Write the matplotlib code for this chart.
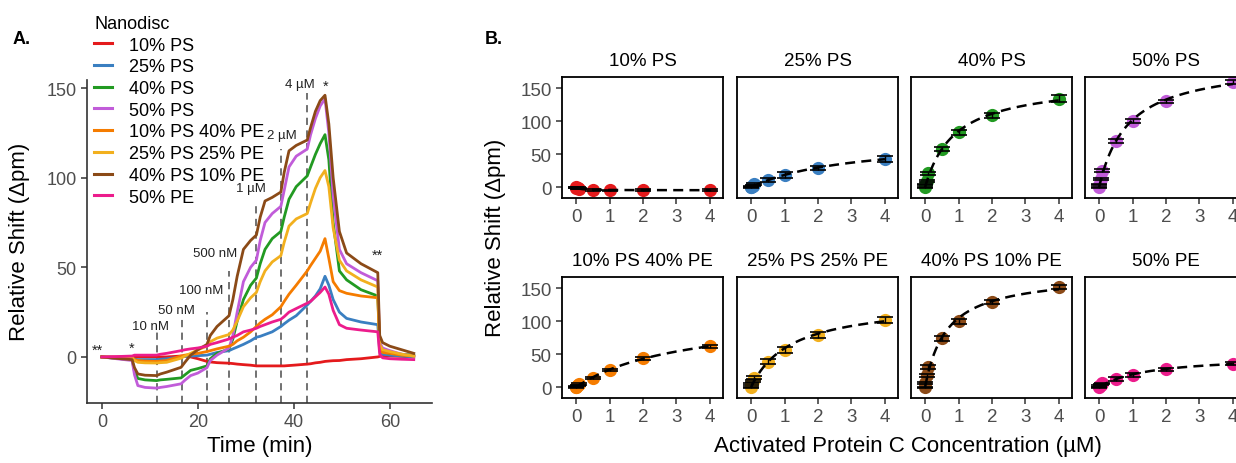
import numpy as np
import matplotlib
matplotlib.use("Agg")
import matplotlib.pyplot as plt
from matplotlib.lines import Line2D

plt.rcParams["font.family"] = ["Liberation Sans", "DejaVu Sans"]

W, H = 1236, 464

nanodiscs = ["10% PS", "25% PS", "40% PS", "50% PS",
             "10% PS 40% PE", "25% PS 25% PE", "40% PS 10% PE", "50% PE"]
colors = ["#E41A1C", "#3A7FC1", "#229A22", "#C15CD9",
          "#F57C00", "#F2B01E", "#8B4A17", "#EC1C8C"]

# ---- panel A: sensorgram traces ----
time_min = [0, 3, 6.3, 6.8, 7.5, 9, 11.4, 12.2, 13.5, 16.5,
            17.3, 18.5, 20, 21.9, 22.6, 24, 26.5, 27.3, 28.2, 29.5,
            31, 32.2, 33, 34, 35.5, 37.3, 38, 39, 40.5, 42.8,
            43.5, 44.5, 45.5, 46.5, 47.3, 48.2, 49.5, 51, 54, 57.5,
            57.9, 58.5, 60, 62.5, 65]

trace_10ps = [0, 0, 0, 0, 0, 0, 0, 0, 0, 0.5,
              0.5, 0, -1, -2.5, -2.8, -3.2, -3.5, -3.7, -4, -4.3,
              -4.6, -5, -5, -5, -5, -5, -5, -4.8, -4.5, -4,
              -3.8, -3.3, -3, -2.5, -2.3, -2.1, -2, -1.5, -1, 0,
              0.3, 0.5, 0.5, 0.3, 0]
trace_25ps = [0, -0.3, -0.5, -1.2, -1.5, -1.5, -1.5, -1.3, -1, 0,
              0.3, 0.5, 0.7, 1, 1.5, 2.5, 3.5, 4.5, 5.5, 7,
              9, 11, 11.5, 12.5, 14, 17, 18.5, 20.5, 23, 29,
              31, 34, 38, 45, 40, 32, 25, 21.5, 19.5, 18,
              3, 1.5, 1, 0.5, 0]
trace_40ps = [0, -0.8, -1.5, -8, -12, -12.8, -13.2, -12.8, -12.5, -11.7,
              -10, -7.5, -6.5, -5, -1, 2, 4.5, 10, 20, 32,
              40, 44, 52, 60, 66, 70, 78, 88, 95, 101,
              106, 113, 119, 124, 110, 75, 48, 43, 37.5, 34,
              6, 3, 2, 1.5, 1]
trace_50ps = [0, -1, -2, -10, -16, -17, -17.4, -17, -16.5, -15,
              -13, -10.4, -9, -6, -2, 1, 5, 12, 25, 42,
              50, 54, 65, 75, 80, 84, 93, 106, 112, 116,
              124, 133, 140, 144, 125, 90, 60, 52, 47, 42.5,
              8, 5, 3.5, 1.5, 0.5]
trace_10ps40pe = [0, -0.3, -0.5, -1.5, -2, -2.3, -2.5, -2.3, -2, 0.5,
                  1, 1.5, 2, 3, 3.5, 4.5, 6, 7, 9, 11,
                  14, 17, 19, 21, 23.5, 28, 31, 35, 40, 48,
                  51, 55, 59, 66, 55, 42, 37, 35.5, 34, 33,
                  5, 2.5, 2, 1, 0.5]
trace_25ps25pe = [0, -0.3, -0.5, -2, -3, -3.3, -3.4, -3.2, -3, -0.7,
                  0.5, 2, 4, 6, 8.5, 10.5, 12.5, 15, 20, 28,
                  33, 36, 42, 48, 53, 56.5, 64, 73, 77, 80,
                  86, 94, 100, 104, 95, 72, 54, 48, 43, 39,
                  7, 4, 3, 1.5, 0.5]
trace_40ps10pe = [0, -0.8, -1.5, -6, -9.5, -10.2, -10.4, -9.5, -8.5, -5.8,
                  -3, 1, 4, 7, 12, 17, 23, 32, 45, 60,
                  65, 68, 78, 87, 89, 92, 103, 115, 118, 121,
                  128, 137, 143, 146, 130, 100, 70, 58, 52, 47,
                  12, 8, 6, 4, 2]
trace_50pe = [0, 0.2, 0.5, 1, 1, 1, 1, 1.5, 2, 3.5,
              4, 4.5, 5, 6, 7, 8, 10, 11, 12, 14,
              15, 16, 17, 18, 19.5, 21, 22.5, 25, 27, 30,
              31, 33.5, 36, 39, 35, 26, 18, 16, 15, 14,
              1.5, -0.5, -1, -1.3, -1.5]

traces = [trace_10ps, trace_25ps, trace_40ps, trace_50ps,
          trace_10ps40pe, trace_25ps25pe, trace_40ps10pe, trace_50pe]

inj_times = [11.4, 16.6, 21.9, 26.5, 32.2, 37.3, 42.8]
inj_tops = [14, 21, 25, 48, 87, 116, 147]
inj_labels = ["10 nM", "50 nM", "100 nM", "500 nM", "1 µM", "2 µM", "4 µM"]
inj_label_x = [10.2, 15.6, 20.8, 23.5, 31.0, 37.5, 41.2]
inj_label_y = [17, 26, 37.5, 58, 94, 124, 152]

star_text = ["**", "*", "*", "**"]
star_x = [-1.0, 6.3, 46.7, 57.5]
star_y = [4, 5, 151, 57]

# ---- panel B: binding isotherms ----
conc_um = [0, 0.01, 0.05, 0.1, 0.5, 1, 2, 4]

bind_10ps = [0, -0.5, -1, -2, -4, -4.5, -4, -4]
bind_25ps = [0, 1, 2.5, 5, 11, 18.5, 29, 43]
bind_40ps = [0, 4, 10, 21, 58, 83, 109, 134]
bind_50ps = [0, 4, 13, 25, 70, 100, 130, 159]
bind_10ps40pe = [0, 1, 3, 5, 14.5, 26, 44, 62]
bind_25ps25pe = [0, 5, 9, 14.5, 39, 57, 79, 102]
bind_40ps10pe = [0, 6, 18, 31, 74, 100, 129, 152]
bind_50pe = [0, 2, 4, 6, 12.5, 18.5, 27, 36]

err_10ps = [0.5, 1, 1, 1, 1, 1, 1, 1.5]
err_25ps = [0.5, 1, 1, 1.5, 3, 4, 3.5, 4]
err_40ps = [0.5, 1, 1.5, 2, 3, 3.5, 3.5, 5]
err_50ps = [0.5, 1, 1.5, 2, 3, 3, 2, 3]
err_10ps40pe = [0.5, 1, 1, 1, 1.5, 1.5, 2, 2.5]
err_25ps25pe = [0.5, 1, 1.5, 2, 4, 4.5, 4.5, 5]
err_40ps10pe = [0.5, 1.5, 2, 3, 3.5, 4, 3.5, 3.5]
err_50pe = [0.5, 1, 1, 1, 2.5, 3, 2.5, 2.5]

bindings = [bind_10ps, bind_25ps, bind_40ps, bind_50ps,
            bind_10ps40pe, bind_25ps25pe, bind_40ps10pe, bind_50pe]
errors = [err_10ps, err_25ps, err_40ps, err_50ps,
          err_10ps40pe, err_25ps25pe, err_40ps10pe, err_50pe]


def one_site_fit(x, y):
    # least squares for y = Bmax * x / (Kd + x), Kd by grid search
    x = np.asarray(x, float)
    y = np.asarray(y, float)
    best = None
    for kd in np.logspace(-3, 1.5, 600):
        f = x / (kd + x)
        bmax = (f @ y) / (f @ f)
        sse = ((y - bmax * f) ** 2).sum()
        if best is None or sse < best[0]:
            best = (sse, kd, bmax)
    return best[1], best[2]


fig = plt.figure(figsize=(W / 100, H / 100), dpi=100)


def px_axes(left, top, right, bottom):
    return fig.add_axes([left / W, 1 - bottom / H, (right - left) / W, (bottom - top) / H])


tick_gray = "#4D4D4D"

# panel A
axA = px_axes(87, 81, 432, 404)
for name, col, tr in zip(nanodiscs, colors, traces):
    axA.plot(time_min, tr, color=col, lw=2, label=name, solid_joinstyle="round")

ylimA = (-25.7, 154.5)
axA.vlines(inj_times, ylimA[0], inj_tops, colors="#666666", linestyles=(0, (4, 3)), lw=1.3, zorder=0)
for lab, lx, ly in zip(inj_labels, inj_label_x, inj_label_y):
    axA.text(lx, ly, lab, ha="center", va="center", fontsize=9.5, color="#222222")
for s, sx, sy in zip(star_text, star_x, star_y):
    axA.text(sx, sy, s, ha="center", va="center", fontsize=10.5, color="#222222")

axA.set_xlim(-3.1, 68.8)
axA.set_ylim(*ylimA)
axA.set_xticks([0, 20, 40, 60])
axA.set_yticks([0, 50, 100, 150])
for side in ["top", "right"]:
    axA.spines[side].set_visible(False)
for side in ["left", "bottom"]:
    axA.spines[side].set_color("#333333")
    axA.spines[side].set_linewidth(1.2)
axA.tick_params(labelsize=13, colors="#333333", labelcolor=tick_gray, length=4, width=1.1)

handles = [Line2D([], [], color=c, lw=2.2) for c in colors]
fig.legend(handles, nanodiscs, title="Nanodisc", loc="upper left",
           bbox_to_anchor=(94 / W, 1 - 16 / H), frameon=False, fontsize=13,
           title_fontsize=13, handlelength=1.0, handletextpad=0.95,
           labelspacing=0.26, borderpad=0, borderaxespad=0, alignment="left")

fig.text(20 / W, 1 - 242 / H, "Relative Shift (Δpm)", rotation=90, ha="center", va="center", fontsize=16)
fig.text(260 / W, 1 - 447 / H, "Time (min)", ha="center", va="center", fontsize=16)
fig.text(22 / W, 1 - 39 / H, "A.", ha="center", va="center", fontsize=13, fontweight="bold")
fig.text(494 / W, 1 - 39 / H, "B.", ha="center", va="center", fontsize=13, fontweight="bold")

# panel B
col_left = [562, 737, 911, 1085]
row_top = [78, 278]
pw, ph = 161, 121
xs = np.linspace(0, 4, 300)
for i, (name, col, yv, ev) in enumerate(zip(nanodiscs, colors, bindings, errors)):
    r, c = divmod(i, 4)
    ax = px_axes(col_left[c], row_top[r], col_left[c] + pw, row_top[r] + ph)
    ax.plot(conc_um, yv, "o", color=col, ms=9.5, mec="none", zorder=2)
    ax.errorbar(conc_um, yv, yerr=ev, fmt="none", ecolor="black", elinewidth=1,
                capsize=5.5, capthick=1.2, zorder=3)
    kd, bmax = one_site_fit(conc_um, yv)
    ax.plot(xs, bmax * xs / (kd + xs), color="black", lw=1.8, ls=(0, (4, 2.5)), zorder=4)
    ax.set_xlim(-0.42, 4.39)
    ax.set_ylim(-16.2, 167)
    ax.set_xticks([0, 1, 2, 3, 4])
    ax.set_yticks([0, 50, 100, 150])
    ax.set_title(name, fontsize=13.5, pad=9)
    for sp in ax.spines.values():
        sp.set_linewidth(1.3)
        sp.set_color("black")
    ax.tick_params(labelsize=13.5, colors="#333333", labelcolor=tick_gray, length=4, width=1.1)
    if c > 0:
        ax.tick_params(labelleft=False, left=False)

fig.text(495 / W, 1 - 238 / H, "Relative Shift (Δpm)", rotation=90, ha="center", va="center", fontsize=16)
fig.text(908 / W, 1 - 447 / H, "Activated Protein C Concentration (µM)", ha="center", va="center", fontsize=16)

fig.savefig("out.png", dpi=100)
